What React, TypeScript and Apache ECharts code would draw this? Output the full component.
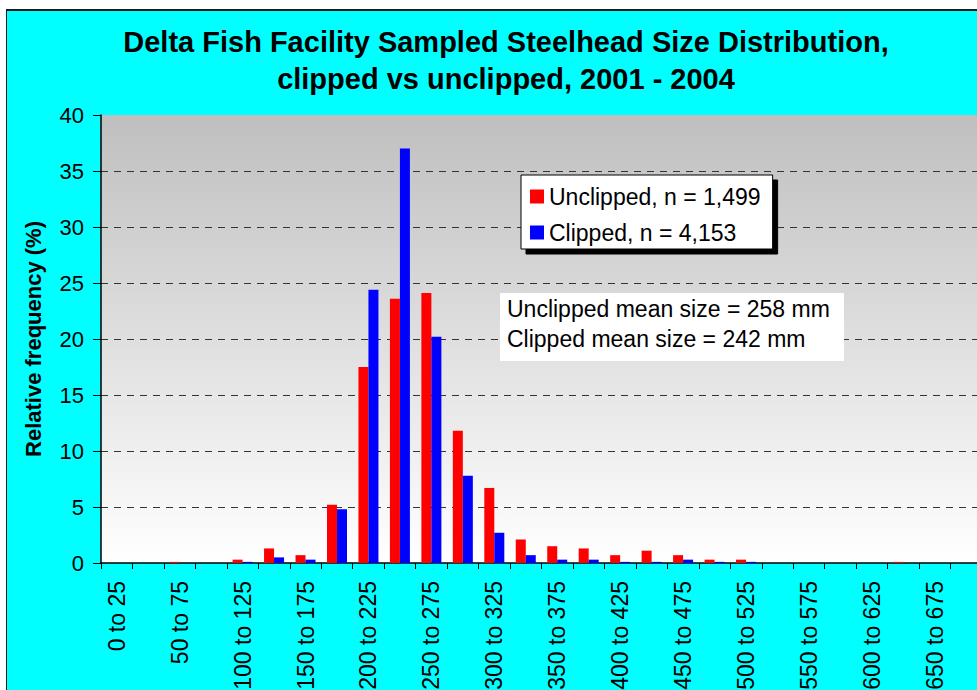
import React, { useEffect, useRef } from "react";
import * as echarts from "echarts";

const categories = [
  "0 to 25", "25 to 50", "50 to 75", "75 to 100", "100 to 125", "125 to 150",
  "150 to 175", "175 to 200", "200 to 225", "225 to 250", "250 to 275",
  "275 to 300", "300 to 325", "325 to 350", "350 to 375", "375 to 400",
  "400 to 425", "425 to 450", "450 to 475", "475 to 500", "500 to 525",
  "525 to 550", "550 to 575", "575 to 600", "600 to 625", "625 to 650",
  "650 to 675", "675 to 700",
];

const unclipped = [
  0, 0, 0.1, 0, 0.3, 1.3, 0.7, 5.2, 17.5, 23.6, 24.1, 11.8, 6.7, 2.1, 1.5,
  1.3, 0.7, 1.1, 0.7, 0.3, 0.3, 0, 0, 0, 0, 0.1, 0, 0,
];

const clipped = [
  0, 0, 0, 0, 0.1, 0.5, 0.3, 4.8, 24.4, 37.0, 20.2, 7.8, 2.7, 0.7, 0.3,
  0.3, 0.1, 0.1, 0.3, 0.1, 0.1, 0, 0, 0, 0, 0, 0, 0,
];

const seriesNames = ["Unclipped, n = 1,499", "Clipped, n = 4,153"];
const titleText =
  "Delta Fish Facility Sampled Steelhead Size Distribution,\nclipped vs unclipped, 2001 - 2004";
const meanText = "Unclipped mean size = 258 mm\nClipped mean size = 242 mm";
const yAxisName = "Relative frequency (%)";

const FONT = "'Liberation Sans', Arial, sans-serif";

export default function App() {
  const ref = useRef<HTMLDivElement>(null);

  useEffect(() => {
    if (!ref.current) return;
    const chart = echarts.init(ref.current, null, { renderer: "svg" });
    const option = {
      animation: false,
      backgroundColor: "#00FFFF",
      textStyle: { fontFamily: FONT },
      title: {
        text: titleText,
        left: 494,
        top: 7,
        textAlign: "center",
        textStyle: {
          fontFamily: FONT,
          fontSize: 29,
          fontWeight: "bold",
          color: "#000",
          lineHeight: 37,
        },
      },
      legend: {
        orient: "vertical",
        left: 514,
        top: 164,
        itemWidth: 14,
        itemHeight: 14,
        itemGap: 13,
        icon: "rect",
        padding: [10, 12, 5, 9],
        backgroundColor: "#fff",
        borderColor: "#000",
        borderWidth: 1,
        shadowColor: "#000",
        shadowOffsetX: 5,
        shadowOffsetY: 5,
        shadowBlur: 0,
        textStyle: { fontFamily: FONT, fontSize: 23, color: "#000", lineHeight: 23 },
        data: seriesNames,
      },
      grid: {
        left: 94,
        top: 104,
        width: 881,
        height: 448,
        show: true,
        borderWidth: 0,
        backgroundColor: new echarts.graphic.LinearGradient(0, 0, 0, 1, [
          { offset: 0, color: "#bfbfbf" },
          { offset: 1, color: "#ffffff" },
        ]),
      },
      xAxis: {
        type: "category",
        data: categories,
        boundaryGap: true,
        axisLine: { show: true, lineStyle: { color: "#000", width: 1.5 } },
        axisTick: { show: true, interval: 0, length: 6, lineStyle: { color: "#000" } },
        axisLabel: {
          interval: 1,
          rotate: 90,
          margin: 18,
          fontFamily: FONT,
          fontSize: 23,
          color: "#000",
        },
        splitLine: { show: false },
      },
      yAxis: {
        type: "value",
        min: 0,
        max: 40,
        interval: 5,
        name: yAxisName,
        nameLocation: "middle",
        nameRotate: 90,
        nameGap: 57,
        nameTextStyle: { fontFamily: FONT, fontSize: 22, fontWeight: "bold", color: "#000" },
        axisLine: { show: true, lineStyle: { color: "#000", width: 1.5 } },
        axisTick: { show: true, length: 8, lineStyle: { color: "#000" } },
        axisLabel: { margin: 17, fontFamily: FONT, fontSize: 22, color: "#000" },
        splitLine: {
          show: true,
          showMaxLine: false,
          showMinLine: false,
          lineStyle: { color: "#333", width: 1, type: [7, 6] },
        },
      },
      graphic: [
        {
          type: "rect",
          shape: { x: 493, y: 282, width: 344, height: 68 },
          style: { fill: "#fff" },
          z: 10,
        },
        {
          type: "text",
          x: 500,
          y: 283,
          z: 11,
          style: {
            text: meanText,
            fontFamily: FONT,
            fontSize: 23,
            lineHeight: 30,
            fill: "#000",
            verticalAlign: "top",
            align: "left",
          },
        },
      ],
      series: [
        {
          name: seriesNames[0],
          type: "bar",
          data: unclipped,
          barWidth: 10,
          barGap: "0%",
          itemStyle: { color: "#FF0000" },
        },
        {
          name: seriesNames[1],
          type: "bar",
          data: clipped,
          barWidth: 10,
          barGap: "0%",
          itemStyle: { color: "#0000FF" },
        },
      ],
    };
    chart.setOption(option as any);
    return () => chart.dispose();
  }, []);

  return (
    <div
      style={{
        position: "fixed",
        left: 0,
        top: 0,
        width: 977,
        height: 690,
        overflow: "hidden",
        background: "#fff",
      }}
    >
      <div
        style={{
          position: "absolute",
          left: 6,
          top: 9,
          borderLeft: "1px solid #1c1c1c",
          borderTop: "2px solid #1c1c1c",
          background: "#00FFFF",
        }}
      >
        <div ref={ref} style={{ width: 1100, height: 760 }} />
      </div>
    </div>
  );
}
